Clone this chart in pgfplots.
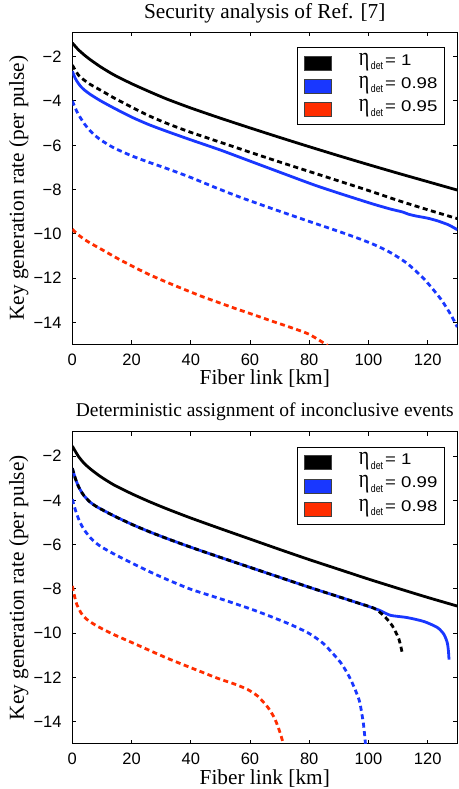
\documentclass[border=0pt]{standalone}
\usepackage{fontspec}
\setmainfont{Liberation Serif}
\setsansfont{Liberation Sans}
\usepackage{graphicx}
\usepackage{pgfplots}
\pgfplotsset{compat=1.18}
\definecolor{mblue}{RGB}{25,55,255}
\definecolor{mred}{RGB}{255,45,0}
\newcommand{\etadet}[1]{\scalebox{1}[1.3]{\fontsize{20}{20}\selectfont η}\hspace{1.5pt}\raisebox{-4.5pt}{\scalebox{0.8}[1]{\sffamily\fontsize{11}{11}\selectfont det}}\hspace{2pt}\scalebox{1.2}[1]{\sffamily\fontsize{15.5}{15.5}\selectfont = #1}}
\pgfplotsset{
  mystyle/.style={
    scale only axis, width=385pt, height=312pt,
    xmin=0, xmax=130, ymin=-15, ymax=-0.9,
    xtick={0,20,40,60,80,100,120}, xticklabels={0,20,40,60,80,100,120},
    ytick={-14,-12,-10,-8,-6,-4,-2}, yticklabels={−14,−12,−10,−8,−6,−4,−2},
    tick align=inside, tick pos=both, major tick length=4pt,
    axis line style={line width=1pt},
    every tick/.style={line width=0.8pt, black},
    ticklabel style={font=\sffamily\fontsize{16.5}{16.5}\selectfont, inner sep=0pt, text height=11.8pt, text depth=0pt},
    xticklabel style={anchor=north, yshift=-9pt},
    yticklabel style={anchor=east, xshift=-10.6pt},
    xlabel={Fiber link [km]}, ylabel={Key generation rate (per pulse)},
    label style={font=\fontsize{21.3}{21.3}\selectfont},
    xlabel style={at={(axis description cs:0.5,-0.1292)}, anchor=base},
    ylabel style={at={(axis description cs:-0.1255,0.5)}, anchor=base},
    legend style={at={(0.9665,0.9513)}, anchor=north east, draw=black, line width=0.8pt,
      inner xsep=6.6pt, inner ysep=8pt, row sep=8.6pt, column sep=27pt,
      nodes={inner sep=0pt, text height=9pt, text depth=5pt}},
    legend cell align=left,
  },
  sol/.style={line width=2.8pt, line join=round, smooth, tension=0.4},
  dsh/.style={line width=2.8pt, dash pattern=on 5pt off 3.5pt, smooth, tension=0.4},
  pk/.style={legend image code/.code={\draw[fill=black, draw=black!75, line width=0.6pt] (0pt,-7pt) rectangle (27.6pt,7pt);}},
  pb/.style={legend image code/.code={\draw[fill=mblue, draw=black!75, line width=0.6pt] (0pt,-7pt) rectangle (27.6pt,7pt);}},
  pr/.style={legend image code/.code={\draw[fill=mred, draw=black!75, line width=0.6pt] (0pt,-7pt) rectangle (27.6pt,7pt);}},
}
\begin{document}
\begin{tikzpicture}
\useasboundingbox (0pt,0pt) rectangle (458pt,-789pt);
% ---------------- top ----------------
\begin{axis}[mystyle, at={(72.3pt,-32.3pt)}, anchor=north west,
  title={Security analysis of Ref. [7]},
  title style={font=\fontsize{21.3}{21.3}\selectfont, at={(axis description cs:0.5,1)}, anchor=base, yshift=7.8pt}]
\addlegendimage{pk}\addlegendentry{\etadet{1}}
\addlegendimage{pb}\addlegendentry{\etadet{0.98}}
\addlegendimage{pr}\addlegendentry{\etadet{0.95}}
% eta=1 solid
\addplot[sol, black, forget plot] coordinates {(0,-1.38) (2,-1.68) (4,-1.92) (6,-2.13) (8,-2.32) (10,-2.5) (14,-2.82) (20,-3.22) (26,-3.58) (32,-3.92) (40,-4.32) (50,-4.78) (60,-5.22) (70,-5.65) (80,-6.07) (90,-6.48) (100,-6.88) (110,-7.27) (120,-7.65) (130,-8.03)};
% eta=1 dashed
\addplot[dsh, black, forget plot] coordinates {(0,-2.38) (2,-2.82) (4,-3.06) (6,-3.25) (8,-3.4) (10,-3.55) (14,-3.86) (20,-4.28) (26,-4.68) (32,-5.02) (40,-5.42) (50,-5.87) (60,-6.32) (70,-6.76) (80,-7.19) (90,-7.62) (100,-8.05) (110,-8.5) (120,-8.92) (130,-9.32)};
% eta=0.98 solid
\addplot[sol, mblue, forget plot] coordinates {(0,-2.66) (1,-2.98) (2,-3.2) (3,-3.37) (4.2,-3.52) (6,-3.7) (8,-3.87) (10,-4.03) (14,-4.32) (20,-4.73) (26,-5.08) (32,-5.38) (40,-5.76) (50,-6.22) (60,-6.72) (70,-7.22) (81.7,-7.8) (90,-8.17) (96.3,-8.44) (102,-8.68) (107.5,-8.89) (111.5,-9.02) (113.5,-9.12) (116,-9.2) (120,-9.3) (123.3,-9.42) (127,-9.6) (130,-9.82)};
% eta=0.98 dashed
\addplot[dsh, mblue, forget plot] coordinates {(0,-4.0) (1,-4.32) (2,-4.6) (4,-5.02) (6,-5.35) (8,-5.6) (10,-5.8) (14,-6.12) (20,-6.48) (26,-6.78) (32,-7.06) (40,-7.46) (48,-7.9) (56,-8.32) (66,-8.8) (79.4,-9.42) (90,-9.9) (96.3,-10.2) (102,-10.5) (107.5,-10.86) (113.1,-11.35) (118.8,-12.05) (124.4,-12.95) (127.8,-13.66) (130,-14.22)};
% eta=0.95 dashed
\addplot[dsh, mred, forget plot] coordinates {(0,-9.8) (2,-10.05) (4,-10.25) (6,-10.42) (10,-10.72) (15,-11.1) (21,-11.52) (26,-11.85) (32,-12.2) (38,-12.53) (44,-12.85) (50,-13.14) (55,-13.38) (62,-13.7) (68,-13.98) (74,-14.25) (80,-14.55) (86.2,-15.05)};
\end{axis}
% ---------------- bottom ----------------
\begin{axis}[mystyle, at={(72.3pt,-431.7pt)}, anchor=north west,
  title={Deterministic assignment of inconclusive events},
  title style={font=\fontsize{19.5}{19.5}\selectfont, at={(axis description cs:0.5,1)}, anchor=base, yshift=9.4pt}]
\addlegendimage{pk}\addlegendentry{\etadet{1}}
\addlegendimage{pb}\addlegendentry{\etadet{0.99}}
\addlegendimage{pr}\addlegendentry{\etadet{0.98}}
% eta=1 solid
\addplot[sol, black, forget plot] coordinates {(0,-1.55) (2,-2.0) (4,-2.33) (6,-2.57) (8,-2.78) (10,-2.97) (14,-3.3) (20,-3.7) (26,-4.06) (32,-4.39) (40,-4.8) (50,-5.28) (60,-5.75) (70,-6.22) (80,-6.68) (90,-7.12) (100,-7.56) (110,-7.98) (120,-8.39) (130,-8.78)};
% eta=0.99 solid
\addplot[sol, mblue, forget plot] coordinates {(0,-2.55) (1,-3.0) (2,-3.35) (3,-3.6) (4,-3.8) (6,-4.08) (8,-4.27) (10,-4.42) (14,-4.7) (20,-5.08) (26,-5.42) (32,-5.73) (40,-6.12) (50,-6.58) (60,-7.03) (70,-7.48) (80,-7.93) (90,-8.36) (96,-8.62) (101.9,-8.88) (104.2,-9.0) (107.5,-9.2) (113.1,-9.3) (118.8,-9.48) (123.3,-9.75) (125.5,-10.06) (126.6,-10.43) (127.0,-10.8) (127.2,-11.2)};
% eta=1 dashed
\addplot[dsh, black, forget plot] coordinates {(0,-2.55) (1,-3.0) (2,-3.35) (3,-3.6) (4,-3.8) (6,-4.08) (8,-4.27) (10,-4.42) (14,-4.7) (20,-5.08) (26,-5.42) (32,-5.73) (40,-6.12) (50,-6.58) (60,-7.03) (70,-7.48) (80,-7.93) (90,-8.36) (96,-8.62) (101.9,-8.88) (105.3,-9.23) (108.1,-9.68) (110.3,-10.28) (111.5,-10.96)};
% eta=0.99 dashed
\addplot[dsh, mblue, forget plot] coordinates {(0,-3.95) (1,-4.42) (2,-4.8) (3,-5.1) (4,-5.33) (6,-5.68) (8,-5.93) (10,-6.12) (14,-6.42) (20,-6.83) (26,-7.22) (32,-7.58) (40,-8.02) (50,-8.45) (60,-8.9) (66,-9.2) (73.8,-9.62) (80,-10.02) (85,-10.5) (90.7,-11.35) (94,-12.1) (96.9,-13.05) (98.3,-14.1) (98.9,-14.88) (99.1,-15.2)};
% eta=0.98 dashed
\addplot[dsh, mred, forget plot] coordinates {(0,-7.87) (0.7,-8.3) (1.5,-8.7) (3,-9.1) (4.9,-9.38) (8.3,-9.68) (13.9,-10.06) (21,-10.48) (32.3,-11.15) (43.5,-11.75) (49.2,-12.05) (54.7,-12.3) (59.2,-12.55) (62.6,-12.85) (66,-13.35) (68.3,-13.85) (69.9,-14.4) (71,-14.88) (71.5,-15.2)};
\end{axis}
\end{tikzpicture}
\end{document}
